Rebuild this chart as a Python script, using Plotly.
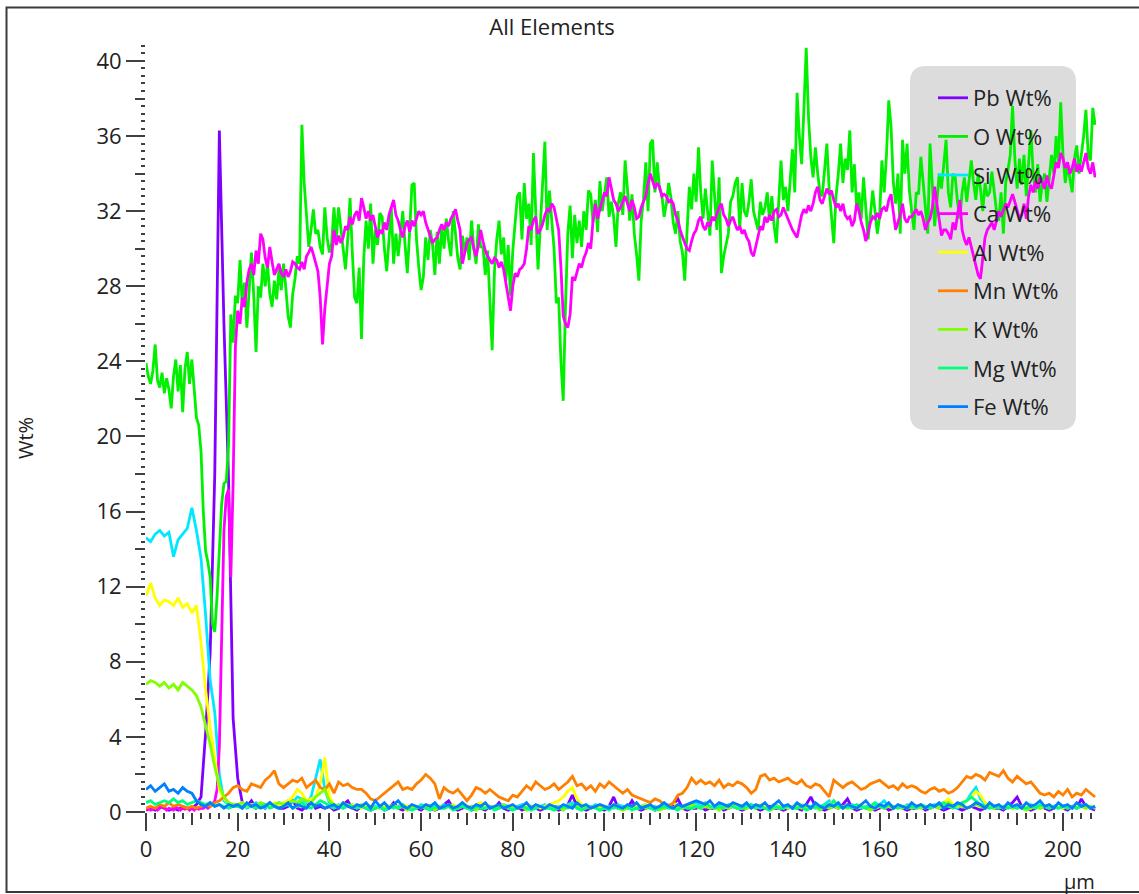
import numpy as np
import plotly.graph_objects as go

# EDS line scan: sampling positions along the scan (um)
pos_fine = np.arange(0, 207.01, 0.5)   # O and Ca were read every 0.5 um
pos = np.arange(0, 208, 1)             # the other elements every 1 um

o_wt = [
    23.9, 23.2, 22.8, 23.5, 24.9, 23.0, 22.6, 23.4, 22.3, 23.1, 22.5, 21.5, 23.2, 24.1, 22.4, 23.8, 21.3, 23.6, 24.5, 22.8,
    24.1, 22.6, 21.0, 20.6, 19.2, 16.0, 13.9, 13.3, 12.5, 10.0, 9.6, 11.5, 14.0, 16.4, 17.5, 17.6, 19.5, 26.5, 25.0, 27.5,
    27.1, 29.4, 27.0, 28.2, 25.8, 28.0, 29.8, 27.5, 24.5, 28.0, 27.4, 29.2, 28.0, 29.2, 27.6, 26.9, 28.3, 27.3, 28.9, 27.8,
    29.2, 27.9, 26.4, 25.8, 27.6, 28.4, 29.6, 29.2, 36.6, 33.5, 31.6, 30.1, 31.0, 32.1, 30.8, 31.0, 30.1, 29.7, 32.2, 30.6,
    29.8, 30.3, 32.2, 30.5, 32.2, 31.0, 30.1, 28.9, 30.5, 32.7, 29.8, 27.4, 27.1, 29.0, 25.2, 29.5, 31.5, 30.0, 32.4, 29.2,
    31.0, 30.2, 31.9, 31.7, 30.0, 28.8, 30.5, 32.2, 29.2, 30.8, 29.6, 31.0, 32.0, 30.2, 28.7, 30.9, 33.4, 33.5, 30.5, 29.0,
    27.8, 28.5, 30.6, 29.4, 31.0, 30.2, 28.6, 30.9, 29.2, 31.2, 30.0, 31.6, 30.4, 29.6, 32.0, 30.8, 29.5, 28.9, 30.7, 29.8,
    30.6, 29.4, 31.5, 30.0, 29.2, 31.3, 30.1, 30.1, 28.6, 29.9, 27.0, 24.6, 28.8, 30.5, 31.5, 29.7, 30.6, 28.3, 30.2, 27.5,
    29.9, 31.4, 32.8, 33.0, 30.5, 33.5, 31.6, 32.4, 30.2, 35.1, 31.5, 28.9, 31.2, 33.4, 35.7, 31.0, 33.1, 31.5, 30.0, 27.1,
    27.4, 24.0, 21.9, 27.0, 30.8, 32.3, 29.5, 31.8, 30.3, 31.5, 30.1, 32.0, 31.0, 33.1, 32.9, 31.4, 32.6, 30.9, 33.6, 32.0,
    32.8, 33.8, 31.7, 32.5, 31.7, 30.1, 32.4, 33.0, 31.8, 34.7, 33.2, 31.5, 32.9, 30.8, 29.7, 28.3, 31.5, 32.6, 34.6, 32.0,
    35.6, 35.8, 33.0, 34.6, 33.2, 32.9, 31.7, 32.4, 33.5, 32.7, 31.4, 30.8, 32.0, 30.4, 29.8, 28.3, 30.9, 33.3, 32.1, 34.0,
    32.5, 35.4, 33.0, 31.6, 33.2, 31.9, 30.7, 34.7, 32.8, 31.0, 33.8, 28.7, 29.6, 30.3, 30.8, 32.5, 32.8, 33.5, 33.8, 31.0,
    33.5, 32.0, 31.7, 32.5, 33.7, 32.0, 31.5, 31.0, 32.5, 31.8, 32.2, 33.0, 31.5, 32.8, 31.2, 30.3, 32.5, 34.7, 32.6, 33.3,
    32.0, 33.5, 35.3, 33.0, 38.3, 36.0, 34.5, 37.5, 40.7, 37.0, 34.9, 33.8, 35.4, 34.0, 33.0, 32.8, 34.1, 35.6, 33.2, 31.5,
    30.3, 32.8, 34.0, 35.6, 33.5, 34.8, 34.2, 36.3, 33.0, 34.5, 32.2, 33.0, 31.6, 33.8, 32.0, 30.5, 31.8, 33.1, 32.0, 30.8,
    31.7, 34.7, 33.0, 35.0, 37.9, 36.5, 33.5, 32.4, 34.0, 30.8, 35.8, 34.0, 35.6, 33.1, 32.0, 31.0, 33.0, 32.9, 34.9, 33.5,
    32.0, 30.8, 35.6, 33.0, 31.2, 32.5, 34.0, 33.2, 34.5, 35.8, 33.0, 32.2, 34.0, 33.8, 32.5, 31.6, 33.0, 33.8, 32.5, 33.5,
    34.7, 33.5, 32.6, 34.0, 33.2, 32.0, 33.5, 32.8, 33.0, 34.1, 33.2, 32.0, 31.5, 33.0, 30.8, 33.5, 34.2, 35.0, 37.6, 34.8,
    33.2, 34.8, 33.4, 35.0, 32.8, 34.5, 36.3, 34.0, 33.0, 34.5, 32.5, 33.5, 34.0, 32.5, 33.8, 35.0, 34.0, 36.0, 34.5, 37.8,
    35.0, 33.5, 34.5, 33.8, 33.0, 34.8, 35.5, 34.0, 35.0, 36.0, 37.4, 35.0, 34.7, 37.5, 36.6,
]

ca_wt = [
    0.1, 0.2, 0.1, 0.15, 0.2, 0.1, 0.2, 0.3, 0.2, 0.1, 0.2, 0.15, 0.1, 0.25, 0.2, 0.1, 0.2, 0.15, 0.2, 0.1,
    0.2, 0.1, 0.2, 0.15, 0.2, 0.2, 0.3, 0.2, 0.3, 0.4, 0.6, 1.2, 3.5, 9.0, 15.0, 16.8, 17.2, 12.5, 17.5, 24.8,
    26.7, 26.0, 27.4, 26.9, 28.2, 28.9, 29.2, 28.6, 29.9, 29.2, 30.8, 30.5, 29.5, 29.0, 30.1, 29.3, 28.6, 28.9, 29.2, 28.7,
    28.5, 28.9, 28.5, 28.8, 29.3, 29.2, 29.0, 28.9, 29.3, 28.9, 29.6, 29.8, 30.1, 29.7, 29.2, 28.8, 27.4, 24.9, 26.8, 28.0,
    29.2, 29.6, 31.0, 30.2, 30.7, 30.3, 30.6, 31.2, 31.0, 31.7, 31.3, 31.8, 32.0, 31.5, 32.7, 32.2, 31.6, 32.0, 31.5, 31.8,
    31.1, 30.6, 31.0, 30.8, 31.4, 31.0, 31.8, 32.2, 32.6, 31.8, 31.5, 31.0, 30.6, 31.2, 31.5, 30.9, 31.5, 31.2, 31.6, 32.0,
    31.8, 32.0, 31.4, 31.0, 30.6, 30.3, 30.5, 30.6, 31.0, 31.3, 31.0, 31.4, 31.2, 31.6, 31.8, 32.1, 31.5, 31.0, 29.2, 29.8,
    30.3, 30.5, 30.6, 30.0, 29.6, 30.2, 31.0, 30.4, 29.9, 29.6, 29.4, 29.2, 29.5, 29.4, 29.0, 29.3, 28.9, 28.2, 27.3, 26.7,
    28.0, 28.7, 28.5, 28.9, 29.0, 29.2, 30.0, 31.2, 31.0, 31.5, 31.7, 30.8, 31.0, 31.3, 31.8, 32.1, 32.0, 32.4, 32.2, 31.6,
    31.0, 29.0, 26.4, 26.0, 25.8, 26.5, 28.5, 28.3, 28.8, 29.2, 29.0, 29.5, 29.8, 30.3, 30.0, 31.5, 32.4, 31.6, 32.1, 32.5,
    33.0, 32.8, 33.8, 33.2, 32.6, 32.4, 32.0, 32.2, 32.5, 32.8, 32.4, 32.0, 32.6, 32.2, 31.6, 31.7, 32.2, 32.5, 32.8, 33.5,
    34.0, 33.6, 33.2, 33.5, 33.3, 32.8, 32.9, 32.8, 32.5, 32.6, 32.4, 31.8, 31.5, 31.0, 30.6, 30.3, 30.0, 29.9, 30.4, 30.8,
    31.0, 31.5, 31.7, 31.2, 31.0, 31.4, 31.2, 31.7, 31.5, 31.9, 32.2, 32.4, 31.8, 31.6, 31.2, 31.5, 31.7, 31.3, 31.0, 31.2,
    30.8, 31.0, 30.6, 30.4, 29.8, 29.6, 30.2, 30.8, 31.2, 31.0, 31.7, 31.4, 31.8, 31.5, 32.0, 32.1, 31.7, 31.8, 32.2, 31.9,
    31.6, 31.2, 31.0, 30.8, 30.6, 31.2, 31.8, 32.1, 31.9, 32.3, 32.0, 32.4, 33.0, 33.3, 32.6, 32.4, 32.8, 33.2, 32.9, 33.1,
    32.6, 32.2, 32.4, 32.0, 32.4, 31.8, 31.6, 31.7, 31.2, 31.5, 32.4, 32.0, 31.4, 31.0, 30.4, 31.0, 31.4, 31.7, 31.6, 31.9,
    31.6, 32.1, 32.2, 32.0, 32.6, 32.9, 32.0, 31.0, 31.4, 31.8, 32.4, 31.6, 31.4, 31.7, 31.7, 31.9, 32.1, 31.8, 32.0, 31.6,
    31.0, 31.4, 31.6, 32.2, 33.3, 32.4, 31.5, 30.7, 31.0, 31.0, 30.8, 30.5, 31.4, 31.0, 31.8, 32.6, 31.0, 30.5, 30.2, 30.6,
    30.1, 29.6, 29.2, 28.6, 28.4, 29.5, 30.6, 31.0, 31.2, 31.4, 31.0, 31.6, 32.0, 31.7, 32.0, 32.4, 32.2, 32.6, 32.9, 32.5,
    32.0, 31.6, 31.8, 32.4, 31.6, 32.8, 33.4, 33.0, 33.6, 33.2, 33.8, 33.5, 33.2, 33.9, 33.4, 33.2, 34.0, 34.6, 34.3, 35.1,
    34.8, 34.3, 34.6, 34.0, 34.3, 34.8, 34.1, 34.5, 34.1, 34.7, 35.1, 34.3, 34.0, 34.6, 33.8,
]

pb_wt = [
    0.1, 0.2, 0.1, 0.3, 0.2, 0.1, 0.2, 0.1, 0.3, 0.2,
    0.2, 0.4, 0.8, 4.2, 8.5, 18.0, 36.3, 26.0, 17.8, 5.0,
    1.8, 0.5, 0.3, 0.6, 0.2, 0.4, 0.2, 0.5, 0.3, 0.2,
    0.2, 0.3, 0.6, 0.2, 0.1, 0.3, 0.5, 0.2, 0.3, 0.2,
    0.3, 0.1, 0.2, 0.4, 0.6, 0.2, 0.1, 0.3, 0.2, 0.1,
    0.2, 0.3, 0.1, 0.2, 0.5, 0.2, 0.1, 0.3, 0.2, 0.2,
    0.1, 0.3, 0.2, 0.1, 0.2, 0.4, 0.6, 0.2, 0.1, 0.2,
    0.3, 0.1, 0.2, 0.2, 0.1, 0.3, 0.2, 0.5, 0.2, 0.1,
    0.2, 0.3, 0.1, 0.2, 0.3, 0.2, 0.1, 0.2, 0.3, 0.2,
    0.1, 0.2, 0.4, 0.9, 0.3, 0.2, 0.1, 0.2, 0.3, 0.2,
    0.1, 0.3, 0.8, 0.2, 0.3, 0.2, 0.6, 0.2, 0.1, 0.2,
    0.3, 0.1, 0.2, 0.2, 0.3, 0.4, 0.7, 0.2, 0.1, 0.2,
    0.2, 0.3, 0.1, 0.2, 0.2, 0.3, 0.1, 0.2, 0.3, 0.2,
    0.1, 0.2, 0.3, 0.2, 0.1, 0.2, 0.3, 0.2, 0.2, 0.1,
    0.2, 0.3, 0.2, 0.1, 0.4, 0.8, 0.3, 0.2, 0.1, 0.2,
    0.3, 0.2, 0.4, 0.7, 0.2, 0.1, 0.2, 0.3, 0.2, 0.1,
    0.2, 0.3, 0.1, 0.2, 0.3, 0.2, 0.1, 0.2, 0.2, 0.3,
    0.1, 0.2, 0.3, 0.2, 0.1, 0.2, 0.3, 0.2, 0.1, 0.2,
    0.3, 0.2, 0.1, 0.2, 0.3, 0.2, 0.2, 0.1, 0.3, 0.5,
    0.8, 0.3, 0.2, 0.1, 0.2, 0.3, 0.2, 0.1, 0.2, 0.3,
    0.2, 0.1, 0.3, 0.2, 0.7, 0.3, 0.2, 0.1,
]

si_wt = [
    14.6, 14.4, 14.8, 15.0, 14.7, 14.9, 13.6, 14.5, 14.8, 15.1,
    16.2, 15.0, 13.5, 10.5, 7.0, 5.3, 2.0, 0.6, 0.4, 0.3,
    0.3, 0.4, 0.2, 0.3, 0.5, 0.3, 0.2, 0.4, 0.3, 0.5,
    0.4, 0.6, 0.5, 0.8, 0.7, 0.5, 0.8, 1.8, 2.8, 1.2,
    0.5, 0.3, 0.4, 0.2, 0.3, 0.4, 0.2, 0.3, 0.4, 0.2,
    0.3, 0.2, 0.4, 0.3, 0.2, 0.3, 0.4, 0.2, 0.3, 0.2,
    0.4, 0.3, 0.2, 0.3, 0.2, 0.4, 0.3, 0.2, 0.3, 0.4,
    0.2, 0.3, 0.2, 0.4, 0.3, 0.2, 0.3, 0.2, 0.4, 0.3,
    0.2, 0.3, 0.4, 0.2, 0.3, 0.2, 0.3, 0.4, 0.2, 0.3,
    0.3, 0.2, 0.4, 0.5, 0.3, 0.2, 0.3, 0.2, 0.4, 0.3,
    0.2, 0.3, 0.2, 0.4, 0.3, 0.2, 0.3, 0.2, 0.3, 0.4,
    0.2, 0.3, 0.2, 0.3, 0.4, 0.2, 0.3, 0.2, 0.3, 0.4,
    0.5, 0.3, 0.4, 0.3, 0.2, 0.4, 0.3, 0.2, 0.3, 0.2,
    0.3, 0.2, 0.4, 0.3, 0.2, 0.3, 0.2, 0.4, 0.3, 0.2,
    0.3, 0.2, 0.3, 0.4, 0.2, 0.3, 0.2, 0.3, 0.4, 0.6,
    0.3, 0.2, 0.3, 0.2, 0.4, 0.3, 0.2, 0.3, 0.2, 0.3,
    0.4, 0.6, 0.3, 0.2, 0.3, 0.2, 0.4, 0.3, 0.2, 0.3,
    0.2, 0.3, 0.4, 0.2, 0.3, 0.5, 0.3, 0.2, 0.4, 0.6,
    1.0, 1.3, 0.7, 0.4, 0.3, 0.2, 0.3, 0.2, 0.4, 0.3,
    0.2, 0.3, 0.2, 0.4, 0.3, 0.2, 0.3, 0.2, 0.3, 0.4,
    0.2, 0.3, 0.2, 0.3, 0.4, 0.2, 0.3, 0.2,
]

al_wt = [
    11.5, 12.2, 11.4, 11.0, 11.3, 11.2, 11.0, 11.4, 10.9, 11.1,
    10.6, 11.0, 9.0, 6.5, 4.5, 2.8, 1.2, 0.7, 0.5, 0.4,
    0.4, 0.5, 0.3, 0.4, 0.3, 0.5, 0.4, 0.3, 0.5, 0.4,
    0.5, 0.6, 0.8, 1.2, 1.0, 0.6, 0.7, 0.8, 1.5, 2.9,
    0.8, 0.4, 0.3, 0.5, 0.3, 0.4, 0.3, 0.2, 0.4, 0.3,
    0.2, 0.3, 0.4, 0.2, 0.3, 0.2, 0.4, 0.3, 0.2, 0.3,
    0.2, 0.4, 0.3, 0.2, 0.3, 0.2, 0.3, 0.4, 0.2, 0.3,
    0.3, 0.2, 0.4, 0.5, 0.3, 0.2, 0.3, 0.2, 0.3, 0.2,
    0.3, 0.2, 0.3, 0.4, 0.2, 0.3, 0.2, 0.3, 0.4, 0.5,
    0.6, 0.8, 1.1, 1.3, 0.7, 0.4, 0.3, 0.2, 0.3, 0.2,
    0.3, 0.2, 0.4, 0.3, 0.2, 0.3, 0.2, 0.3, 0.2, 0.4,
    0.3, 0.2, 0.3, 0.2, 0.3, 0.5, 0.3, 0.2, 0.3, 0.2,
    0.3, 0.2, 0.4, 0.3, 0.2, 0.3, 0.2, 0.3, 0.4, 0.2,
    0.3, 0.2, 0.3, 0.2, 0.4, 0.3, 0.2, 0.3, 0.2, 0.3,
    0.2, 0.3, 0.2, 0.4, 0.3, 0.2, 0.3, 0.2, 0.3, 0.4,
    0.6, 0.3, 0.2, 0.3, 0.2, 0.3, 0.4, 0.2, 0.3, 0.2,
    0.3, 0.2, 0.4, 0.3, 0.2, 0.3, 0.2, 0.3, 0.2, 0.4,
    0.3, 0.2, 0.3, 0.2, 0.5, 0.7, 0.4, 0.3, 0.4, 0.6,
    0.8, 1.1, 0.9, 0.5, 0.3, 0.2, 0.3, 0.2, 0.3, 0.2,
    0.3, 0.2, 0.3, 0.2, 0.3, 0.2, 0.3, 0.4, 0.2, 0.3,
    0.2, 0.3, 0.2, 0.4, 0.3, 0.2, 0.3, 0.2,
]

mn_wt = [
    0.2, 0.3, 0.2, 0.4, 0.3, 0.5, 0.3, 0.4, 0.3, 0.2,
    0.3, 0.2, 0.3, 0.4, 0.3, 0.5, 0.6, 0.8, 1.0, 1.3,
    1.4, 1.2, 1.1, 1.5, 1.4, 1.3, 1.7, 1.9, 2.2, 1.5,
    1.3, 1.5, 1.7, 1.6, 1.8, 1.3, 1.5, 1.7, 1.3, 1.2,
    1.5, 1.0, 1.6, 1.4, 1.5, 1.3, 1.2, 1.2, 1.0, 0.7,
    0.6, 0.8, 1.0, 1.2, 1.4, 1.6, 1.2, 1.3, 1.2, 1.5,
    1.7, 2.0, 1.8, 1.5, 0.7, 1.3, 1.1, 1.0, 1.2, 0.9,
    0.6, 0.9, 1.3, 1.2, 1.0, 1.2, 1.0, 0.8, 0.7, 0.6,
    0.9, 0.8, 1.1, 1.4, 1.2, 1.6, 1.4, 1.2, 1.3, 1.5,
    1.2, 1.4, 1.6, 1.9, 1.4, 1.5, 1.2, 1.4, 1.1, 1.5,
    1.3, 1.6, 1.4, 1.2, 1.0, 1.2, 0.9, 0.8, 0.7, 0.6,
    0.5, 0.7, 0.6, 0.4, 0.3, 0.5, 0.9, 1.0, 1.3, 1.8,
    1.5, 1.7, 1.5, 1.6, 1.4, 1.7, 1.3, 1.5, 1.4, 1.6,
    1.5, 1.3, 1.0, 1.2, 1.9, 2.0, 1.7, 1.8, 1.6, 1.7,
    1.8, 1.6, 1.5, 1.7, 1.4, 1.3, 1.5, 1.4, 1.1, 0.8,
    1.7, 1.5, 1.3, 1.5, 1.6, 1.4, 1.2, 1.3, 1.5, 1.6,
    1.7, 1.5, 1.3, 1.4, 1.2, 1.5, 1.3, 1.4, 1.3, 1.1,
    1.0, 1.2, 1.3, 1.1, 1.2, 1.0, 1.1, 1.3, 1.6, 1.9,
    1.8, 2.0, 1.9, 1.7, 2.1, 2.0, 1.9, 2.2, 1.8, 1.6,
    1.9, 1.7, 1.5, 1.6, 1.3, 1.0, 0.9, 1.0, 0.8, 1.1,
    0.9, 1.2, 0.8, 1.0, 0.9, 1.2, 1.0, 0.8,
]

k_wt = [
    6.8, 7.0, 6.9, 6.7, 6.9, 6.6, 6.8, 6.5, 6.9, 6.7,
    6.5, 6.2, 5.6, 4.6, 3.6, 2.4, 1.4, 0.8, 0.5, 0.4,
    0.4, 0.5, 0.3, 0.4, 0.3, 0.5, 0.4, 0.3, 0.4, 0.5,
    0.4, 0.5, 0.6, 0.5, 0.7, 0.6, 0.5, 0.8, 1.0, 1.2,
    0.6, 0.4, 0.3, 0.4, 0.3, 0.2, 0.3, 0.4, 0.2, 0.3,
    0.2, 0.3, 0.2, 0.3, 0.4, 0.2, 0.3, 0.1, 0.3, 0.2,
    0.3, 0.2, 0.3, 0.1, 0.3, 0.2, 0.4, 0.3, 0.2, 0.3,
    0.2, 0.3, 0.1, 0.3, 0.2, 0.3, 0.2, 0.3, 0.4, 0.2,
    0.3, 0.2, 0.3, 0.1, 0.3, 0.2, 0.3, 0.2, 0.3, 0.2,
    0.3, 0.1, 0.3, 0.4, 0.3, 0.2, 0.3, 0.2, 0.3, 0.1,
    0.3, 0.2, 0.3, 0.2, 0.1, 0.2, 0.3, 0.2, 0.3, 0.2,
    0.3, 0.2, 0.1, 0.2, 0.3, 0.2, 0.3, 0.2, 0.3, 0.4,
    0.3, 0.2, 0.3, 0.2, 0.3, 0.1, 0.3, 0.2, 0.3, 0.2,
    0.2, 0.2, 0.3, 0.2, 0.3, 0.2, 0.1, 0.2, 0.3, 0.2,
    0.3, 0.2, 0.3, 0.2, 0.3, 0.2, 0.3, 0.1, 0.3, 0.2,
    0.3, 0.2, 0.3, 0.2, 0.3, 0.2, 0.3, 0.2, 0.1, 0.2,
    0.3, 0.2, 0.3, 0.2, 0.3, 0.2, 0.3, 0.2, 0.3, 0.2,
    0.3, 0.2, 0.3, 0.2, 0.4, 0.5, 0.3, 0.4, 0.3, 0.2,
    0.3, 0.4, 0.3, 0.2, 0.3, 0.2, 0.3, 0.2, 0.3, 0.2,
    0.3, 0.2, 0.1, 0.2, 0.3, 0.2, 0.3, 0.2, 0.3, 0.2,
    0.3, 0.2, 0.3, 0.2, 0.3, 0.2, 0.3, 0.2,
]

mg_wt = [
    0.5, 0.6, 0.4, 0.5, 0.6, 0.5, 0.7, 0.5, 0.6, 0.4,
    0.5, 0.6, 0.5, 0.4, 0.5, 0.3, 0.4, 0.3, 0.2, 0.3,
    0.3, 0.2, 0.4, 0.3, 0.2, 0.3, 0.4, 0.2, 0.3, 0.2,
    0.3, 0.4, 0.2, 0.3, 0.5, 0.3, 0.2, 0.4, 0.6, 0.5,
    0.3, 0.2, 0.3, 0.2, 0.4, 0.3, 0.2, 0.3, 0.2, 0.1,
    0.2, 0.3, 0.1, 0.2, 0.3, 0.2, 0.4, 0.2, 0.1, 0.2,
    0.3, 0.2, 0.1, 0.3, 0.2, 0.2, 0.3, 0.1, 0.2, 0.3,
    0.2, 0.1, 0.3, 0.2, 0.2, 0.3, 0.1, 0.2, 0.3, 0.2,
    0.1, 0.2, 0.3, 0.2, 0.1, 0.2, 0.3, 0.2, 0.2, 0.1,
    0.2, 0.3, 0.2, 0.4, 0.2, 0.1, 0.2, 0.3, 0.2, 0.1,
    0.2, 0.1, 0.3, 0.2, 0.2, 0.3, 0.1, 0.2, 0.2, 0.3,
    0.2, 0.1, 0.2, 0.3, 0.2, 0.2, 0.1, 0.3, 0.2, 0.2,
    0.3, 0.2, 0.5, 0.3, 0.2, 0.3, 0.2, 0.4, 0.3, 0.2,
    0.2, 0.3, 0.4, 0.2, 0.3, 0.2, 0.1, 0.3, 0.2, 0.2,
    0.3, 0.2, 0.2, 0.3, 0.1, 0.2, 0.3, 0.2, 0.4, 0.3,
    0.6, 0.3, 0.2, 0.3, 0.2, 0.4, 0.3, 0.2, 0.3, 0.5,
    0.3, 0.2, 0.4, 0.3, 0.2, 0.3, 0.2, 0.3, 0.2, 0.4,
    0.3, 0.2, 0.3, 0.4, 0.5, 0.3, 0.2, 0.4, 0.5, 0.6,
    0.8, 0.6, 0.4, 0.3, 0.2, 0.3, 0.2, 0.3, 0.2, 0.3,
    0.2, 0.3, 0.2, 0.3, 0.2, 0.4, 0.3, 0.2, 0.3, 0.2,
    0.3, 0.2, 0.3, 0.2, 0.3, 0.4, 0.2, 0.3,
]

fe_wt = [
    1.2, 1.4, 1.1, 1.3, 1.5, 1.1, 1.2, 1.0, 1.3, 1.1,
    1.0, 0.6, 0.4, 0.3, 0.5, 0.3, 0.4, 0.2, 0.4, 0.3,
    0.4, 0.2, 0.5, 0.3, 0.4, 0.2, 0.3, 0.5, 0.3, 0.2,
    0.3, 0.5, 0.2, 0.4, 0.3, 0.2, 0.5, 0.3, 0.4, 0.2,
    0.3, 0.4, 0.2, 0.5, 0.3, 0.2, 0.4, 0.3, 0.5, 0.2,
    0.6, 0.3, 0.5, 0.2, 0.4, 0.6, 0.3, 0.2, 0.4, 0.3,
    0.2, 0.4, 0.3, 0.5, 0.2, 0.3, 0.4, 0.2, 0.3, 0.5,
    0.3, 0.2, 0.4, 0.3, 0.5, 0.2, 0.3, 0.4, 0.2, 0.3,
    0.4, 0.2, 0.3, 0.5, 0.2, 0.4, 0.3, 0.2, 0.4, 0.3,
    0.2, 0.4, 0.3, 0.2, 0.5, 0.3, 0.4, 0.2, 0.3, 0.4,
    0.3, 0.2, 0.4, 0.3, 0.2, 0.4, 0.3, 0.5, 0.2, 0.3,
    0.4, 0.2, 0.3, 0.5, 0.3, 0.2, 0.4, 0.3, 0.4, 0.5,
    0.6, 0.5, 0.4, 0.6, 0.3, 0.5, 0.4, 0.3, 0.5, 0.4,
    0.3, 0.5, 0.2, 0.4, 0.3, 0.5, 0.2, 0.4, 0.6, 0.3,
    0.4, 0.2, 0.5, 0.3, 0.4, 0.2, 0.5, 0.3, 0.2, 0.4,
    0.3, 0.5, 0.2, 0.4, 0.3, 0.2, 0.4, 0.6, 0.3, 0.2,
    0.4, 0.3, 0.5, 0.2, 0.4, 0.3, 0.2, 0.5, 0.3, 0.4,
    0.2, 0.4, 0.3, 0.5, 0.2, 0.4, 0.3, 0.5, 0.4, 0.2,
    0.3, 0.5, 0.4, 0.2, 0.5, 0.3, 0.4, 0.2, 0.5, 0.3,
    0.4, 0.2, 0.5, 0.3, 0.4, 0.6, 0.3, 0.4, 0.2, 0.5,
    0.3, 0.4, 0.2, 0.5, 0.3, 0.4, 0.2, 0.3,
]

# legend order = drawing order
series = [
    ("Pb Wt%", pos, pb_wt, "#8000ff"),
    ("O Wt%", pos_fine, o_wt, "#00f000"),
    ("Si Wt%", pos, si_wt, "#00e8ff"),
    ("Ca Wt%", pos_fine, ca_wt, "#ff00ff"),
    ("Al Wt%", pos, al_wt, "#ffff00"),
    ("Mn Wt%", pos, mn_wt, "#ff8000"),
    ("K Wt%", pos, k_wt, "#80ff00"),
    ("Mg Wt%", pos, mg_wt, "#00ff80"),
    ("Fe Wt%", pos, fe_wt, "#0080ff"),
]

W, H = 1139, 894
L, R, T, B = 146, 43, 45, 82
PW, PH = W - L - R, H - T - B
x_range = [0, 207.2]
y_range = [0, 40.85]
tick_col = "#404040"
font_family = "Open Sans, Noto Sans, sans-serif"


def px_x(p):
    return (p - L) / PW


def px_y(p):
    return (H - B - p) / PH


def rounded_box(x0, y0, x1, y1, r):
    X = px_x
    Y = px_y
    return (f"M {X(x0 + r)},{Y(y0)} L {X(x1 - r)},{Y(y0)} Q {X(x1)},{Y(y0)} {X(x1)},{Y(y0 + r)} "
            f"L {X(x1)},{Y(y1 - r)} Q {X(x1)},{Y(y1)} {X(x1 - r)},{Y(y1)} "
            f"L {X(x0 + r)},{Y(y1)} Q {X(x0)},{Y(y1)} {X(x0)},{Y(y1 - r)} "
            f"L {X(x0)},{Y(y0 + r)} Q {X(x0)},{Y(y0)} {X(x0 + r)},{Y(y0)} Z")


fig = go.Figure()
for i, (name, xs, ys, col) in enumerate(series):
    fig.add_trace(go.Scatter(x=xs, y=ys, name=name, mode="lines", legendgroup=f"g{i}",
                             line=dict(color=col, width=2.8)))

# empty trace so the overlay axes (mid-length ticks) get drawn
fig.add_trace(go.Scatter(x=[None], y=[None], xaxis="x2", yaxis="y2", showlegend=False, hoverinfo="skip"))

fig.update_layout(
    width=W, height=H,
    margin=dict(l=L, r=R, t=T, b=B),
    paper_bgcolor="white", plot_bgcolor="white",
    font=dict(family=font_family, size=22, color="#222222"),
    title=dict(text="All Elements", x=552 / W, xanchor="center", y=1 - 27 / H, yanchor="middle",
               font=dict(size=22, color="#222222")),
    legend=dict(x=px_x(933), y=px_y(77), xanchor="left", yanchor="top",
                bgcolor="rgba(0,0,0,0)", borderwidth=0, tracegroupgap=7,
                font=dict(size=22, color="#222222")),
    xaxis=dict(range=x_range, dtick=20, tick0=0, ticks="outside", ticklen=18, tickwidth=1.5,
               tickcolor=tick_col, showgrid=False, zeroline=False, showline=False,
               tickfont=dict(size=22),
               minor=dict(dtick=2, ticks="outside", ticklen=6, tickwidth=1.5, tickcolor=tick_col)),
    yaxis=dict(range=y_range, dtick=4, tick0=0, ticks="outside", ticklen=19, tickwidth=1.5,
               tickcolor=tick_col, showgrid=False, zeroline=False, showline=False,
               tickfont=dict(size=22),
               minor=dict(dtick=0.4, ticks="outside", ticklen=4, tickwidth=1.5, tickcolor=tick_col)),
    xaxis2=dict(overlaying="x", anchor="y2", range=x_range, tickvals=list(range(10, 201, 20)),
                ticks="outside", ticklen=12, tickwidth=1.5, tickcolor=tick_col,
                showticklabels=False, showgrid=False, zeroline=False, showline=False),
    yaxis2=dict(overlaying="y", anchor="x2", side="left", range=y_range, tickvals=list(range(2, 40, 4)),
                ticks="outside", ticklen=10, tickwidth=1.5, tickcolor=tick_col,
                showticklabels=False, showgrid=False, zeroline=False, showline=False),
    shapes=[
        dict(type="path", xref="paper", yref="paper", layer="below",
             path=rounded_box(910, 66, 1076, 430, 16), fillcolor="#dcdcdc", line=dict(width=0)),
        dict(type="rect", xref="paper", yref="paper", layer="above",
             x0=px_x(6.5), x1=px_x(1150), y0=px_y(892), y1=px_y(7.5),
             line=dict(color="#3a3a3a", width=2)),
    ],
    annotations=[
        dict(text="Wt%", xref="paper", yref="paper", x=px_x(25), y=px_y(438), textangle=-90,
             showarrow=False, xanchor="center", yanchor="middle", font=dict(size=20)),
        dict(text="µm", xref="paper", yref="paper", x=px_x(1079), y=px_y(881),
             showarrow=False, xanchor="center", yanchor="middle", font=dict(size=20)),
    ],
)

# the page body has a default 8px margin; drop it so the figure sits at the window corner
fig.write_html("out.html", config={"displayModeBar": False},
               post_script="document.body.style.margin='0px';")
